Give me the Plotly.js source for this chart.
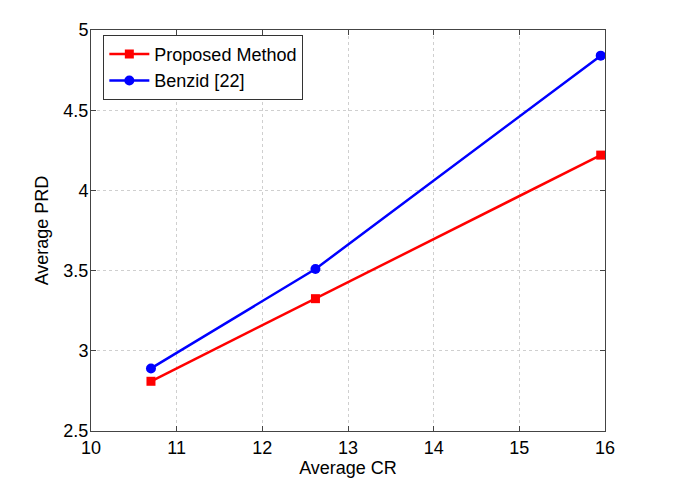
<!DOCTYPE html>
<html><head><meta charset="utf-8">
<script src="https://cdn.plot.ly/plotly-3.0.1.min.js"></script>
<style>html,body{margin:0;padding:0;background:#fff}#chart{width:685px;height:494px}</style>
</head><body><div id="chart"></div>
<script>
const avgCR = [10.7, 12.62, 15.95];
const proposedPRD = [2.81, 3.325, 4.22];
const benzidPRD = [2.89, 3.51, 4.84];
const seriesNames = ["Proposed Method", "Benzid [22]"];
const xTicks = [10, 11, 12, 13, 14, 15, 16];
const yTicks = [2.5, 3, 3.5, 4, 4.5, 5];
const yTickText = ["2.5", "3", "3.5", "4", "4.5", "5"];

const font = "Liberation Sans, Arial, sans-serif";
const traces = [
  {x: avgCR, y: proposedPRD, name: seriesNames[0], mode: "lines+markers",
   line: {color: "#ff0000", width: 2.5}, marker: {symbol: "square", size: 9, color: "#ff0000"}},
  {x: avgCR, y: benzidPRD, name: seriesNames[1], mode: "lines+markers",
   line: {color: "#0000ff", width: 2.5}, marker: {symbol: "circle", size: 10, color: "#0000ff"}}
];
const axisCommon = {
  showline: true, linecolor: "#444", linewidth: 1, mirror: "ticks",
  ticks: "inside", ticklen: 5, tickcolor: "#444",
  showgrid: true, gridcolor: "#cfcfcf", griddash: "dot", gridwidth: 1,
  zeroline: false, tickfont: {family: font, size: 18, color: "#000"}
};
const layout = {
  width: 685, height: 494,
  margin: {l: 91, r: 80, t: 30, b: 63},
  paper_bgcolor: "#fff", plot_bgcolor: "#fff",
  showlegend: true,
  legend: {x: 0.024, y: 0.988, xanchor: "left", yanchor: "top",
    bordercolor: "#333", borderwidth: 1, bgcolor: "#fff",
    font: {family: font, size: 18, color: "#000"}, tracegroupgap: 0,
    itemwidth: 40},
  xaxis: Object.assign({}, axisCommon, {range: [10, 16], tickvals: xTicks,
    ticktext: xTicks.map(String),
    title: {text: "Average CR", font: {family: font, size: 18, color: "#000"}, standoff: 2}}),
  yaxis: Object.assign({}, axisCommon, {range: [2.5, 5], tickvals: yTicks, ticktext: yTickText,
    ticklabelstandoff: -2,
    title: {text: "Average PRD", font: {family: font, size: 18, color: "#000"}, standoff: 10}})
};
Plotly.newPlot("chart", traces, layout, {displayModeBar: false, staticPlot: true});
</script></body></html>
